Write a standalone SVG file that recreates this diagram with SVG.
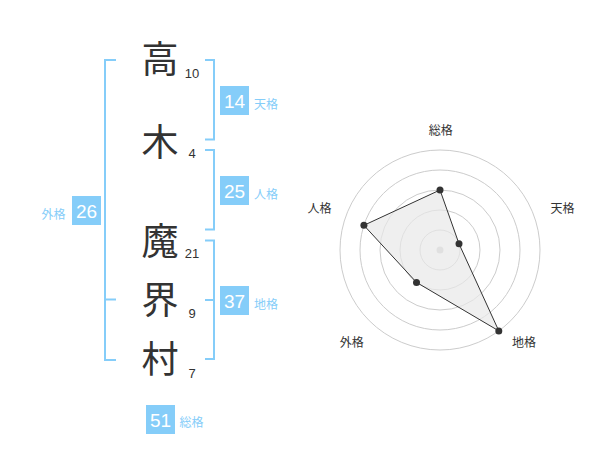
<svg xmlns="http://www.w3.org/2000/svg" width="600" height="470" viewBox="0 0 600 470">
<style>
.ch{font-family:"Noto Sans CJK JP","Noto Sans CJK SC",sans-serif;font-size:37px;fill:#333;text-anchor:middle}
.num{font-family:"Liberation Sans",Arial,sans-serif;font-size:13px;fill:#333;text-anchor:middle}
.box{fill:#85cdf9}
.bt{font-family:"Liberation Sans",Arial,sans-serif;font-size:19px;fill:#fff;text-anchor:middle}
.lb{font-family:"Noto Sans CJK JP","Noto Sans CJK SC",sans-serif;font-size:12px;fill:#85cdf9}
.br{fill:none;stroke:#85cdf9;stroke-width:2}
.ring{fill:none;stroke:#ccc;stroke-width:1}
.rl{font-family:"Noto Sans CJK JP","Noto Sans CJK SC",sans-serif;font-size:12px;fill:#333;text-anchor:middle}
.dot{fill:#333}
</style>
<rect width="600" height="470" fill="#fff"/>
<g id="connectors">
<path class="br" d="M116,60 H105 V360 H116 M105,299.5 H116"/>
<path class="br" d="M205,60 H214 V139.5 H205"/>
<path class="br" d="M205,150 H214 V229.5 H205"/>
<path class="br" d="M205,240.5 H214 V359 H205 M214,300 H205"/>
</g>
<g id="name-chars">
<text class="ch" x="160" y="73">高</text>
<text class="num" x="192" y="78">10</text>
<text class="ch" x="160" y="156">木</text>
<text class="num" x="192" y="158">4</text>
<text class="ch" x="160" y="255">魔</text>
<text class="num" x="192" y="257.5">21</text>
<text class="ch" x="160" y="314">界</text>
<text class="num" x="192" y="317.5">9</text>
<text class="ch" x="160" y="372.5">村</text>
<text class="num" x="192" y="377.5">7</text>
</g>
<g id="tenkaku">
<rect class="box" x="220" y="86" width="29" height="29"/>
<text class="bt" x="234.5" y="107.5">14</text>
<text class="lb" x="254" y="108.5">天格</text>
</g>
<g id="jinkaku">
<rect class="box" x="220" y="176" width="29" height="29"/>
<text class="bt" x="234.5" y="197.5">25</text>
<text class="lb" x="254" y="198.5">人格</text>
</g>
<g id="chikaku">
<rect class="box" x="220" y="286" width="29" height="29"/>
<text class="bt" x="234.5" y="307.5">37</text>
<text class="lb" x="254" y="308.5">地格</text>
</g>
<g id="gaikaku">
<rect class="box" x="72" y="196" width="29" height="29"/>
<text class="bt" x="86.5" y="217.5">26</text>
<text class="lb" x="41.5" y="218.5">外格</text>
</g>
<g id="soukaku">
<rect class="box" x="146" y="405" width="29" height="29"/>
<text class="bt" x="160.5" y="426.5">51</text>
<text class="lb" x="179.5" y="427">総格</text>
</g>
<g id="radar">
<circle class="ring" cx="440" cy="250" r="20"/>
<circle class="ring" cx="440" cy="250" r="40"/>
<circle class="ring" cx="440" cy="250" r="60"/>
<circle class="ring" cx="440" cy="250" r="80"/>
<circle class="ring" cx="440" cy="250" r="100"/>
<circle cx="440" cy="250" r="3.5" fill="#ccc"/>
<polygon points="440,190 459,243.8 498.8,330.9 416.5,282.4 363.9,225.3" fill="#e8e8e8" fill-opacity="0.7" stroke="#333" stroke-width="1"/>
<circle class="dot" cx="440" cy="190" r="3.5"/>
<circle class="dot" cx="459" cy="243.8" r="3.5"/>
<circle class="dot" cx="498.8" cy="330.9" r="3.5"/>
<circle class="dot" cx="416.5" cy="282.4" r="3.5"/>
<circle class="dot" cx="363.9" cy="225.3" r="3.5"/>
<text class="rl" x="440.8" y="134.5">総格</text>
<text class="rl" x="562.5" y="212.5">天格</text>
<text class="rl" x="524" y="347">地格</text>
<text class="rl" x="351.8" y="347">外格</text>
<text class="rl" x="319.5" y="212.5">人格</text>
</g>
</svg>
